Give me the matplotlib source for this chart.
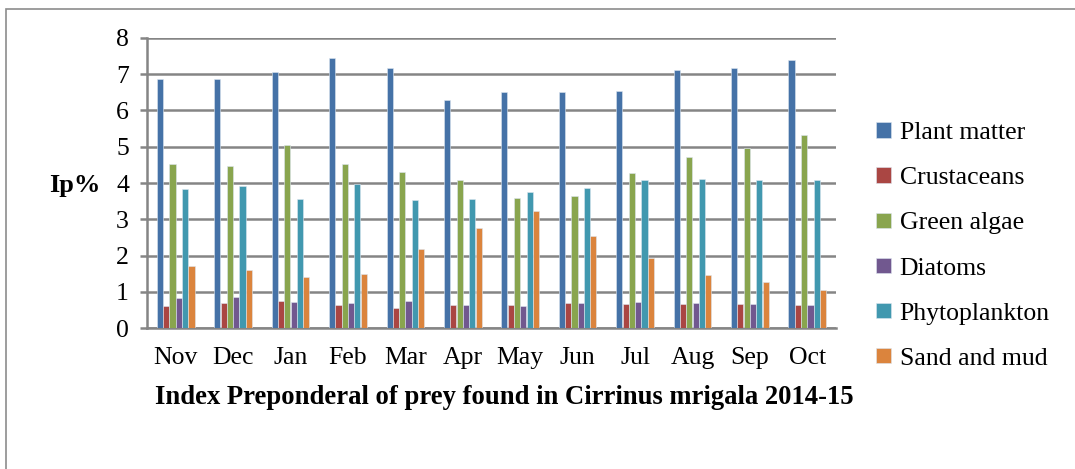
import numpy as np
import matplotlib.pyplot as plt
from matplotlib.patches import Rectangle

plt.rcParams['font.family'] = ['Liberation Serif', 'DejaVu Serif']

months = ["Nov", "Dec", "Jan", "Feb", "Mar", "Apr", "May", "Jun", "Jul", "Aug", "Sep", "Oct"]

plant_matter = [6.86, 6.88, 7.07, 7.46, 7.16, 6.28, 6.50, 6.52, 6.53, 7.11, 7.18, 7.39]
crustaceans = [0.61, 0.70, 0.75, 0.63, 0.54, 0.63, 0.63, 0.69, 0.66, 0.66, 0.65, 0.63]
green_algae = [4.53, 4.46, 5.06, 4.53, 4.31, 4.07, 3.59, 3.64, 4.27, 4.72, 4.97, 5.32]
diatoms = [0.83, 0.85, 0.73, 0.70, 0.74, 0.63, 0.60, 0.69, 0.73, 0.68, 0.66, 0.63]
phytoplankton = [3.83, 3.92, 3.56, 3.98, 3.54, 3.55, 3.75, 3.85, 4.08, 4.12, 4.08, 4.08]
sand_and_mud = [1.71, 1.59, 1.42, 1.49, 2.18, 2.76, 3.23, 2.54, 1.94, 1.45, 1.27, 1.04]

series = [
    ("Plant matter", plant_matter, "#4572A7"),
    ("Crustaceans", crustaceans, "#AA4643"),
    ("Green algae", green_algae, "#89A54E"),
    ("Diatoms", diatoms, "#71588F"),
    ("Phytoplankton", phytoplankton, "#4198AF"),
    ("Sand and mud", sand_and_mud, "#DB843D"),
]

fig = plt.figure(figsize=(10.75, 4.69), dpi=100)
ax = fig.add_axes([0.1367, 0.3006, 0.6410, 0.6184])

x = np.arange(len(months))
w = 0.11
for i, (name, vals, col) in enumerate(series):
    ax.bar(x + (i - 2.5) * w, vals, w * 0.97, color=col, label=name,
           edgecolor="#dde6f0", linewidth=0.4, zorder=3)

ax.set_xlim(-0.5, len(months) - 0.5)
ax.set_ylim(0, 8)
ax.set_yticks(range(0, 9))
ax.yaxis.grid(True, color="#858585", linewidth=1.8, zorder=0)
ax.set_axisbelow(True)
ax.set_xticks(x)
ax.set_xticklabels(months)

for s in ["top", "right"]:
    ax.spines[s].set_visible(False)
for s in ["left", "bottom"]:
    ax.spines[s].set_color("#858585")
    ax.spines[s].set_linewidth(1.8)

ax.tick_params(axis="y", length=5, width=1.8, color="#858585", labelsize=18.5, pad=8)
ax.tick_params(axis="x", length=0, labelsize=18.5, pad=14)

ax.set_ylabel("Ip%", rotation=0, fontsize=19, fontweight="bold", va="center")
ax.yaxis.set_label_coords(-0.105, 0.49)
ax.set_xlabel("Index Preponderal of prey found in Cirrinus mrigala 2014-15",
              fontsize=19.2, fontweight="bold", labelpad=11)
ax.xaxis.label.set_x(0.518)

ax.legend(loc="center left", bbox_to_anchor=(1.025, 0.283), frameon=False, fontsize=18.5,
          handlelength=0.55, handleheight=0.55, handletextpad=0.35, labelspacing=0.9)

# outer chart border
fig.patches.append(Rectangle((6 / 1075, -0.1), 1.2, 1 - 9 / 469 + 0.1,
                             transform=fig.transFigure, fill=False,
                             edgecolor="#8c8c8c", linewidth=1.2, clip_on=False))

fig.savefig("out.png", dpi=100)
